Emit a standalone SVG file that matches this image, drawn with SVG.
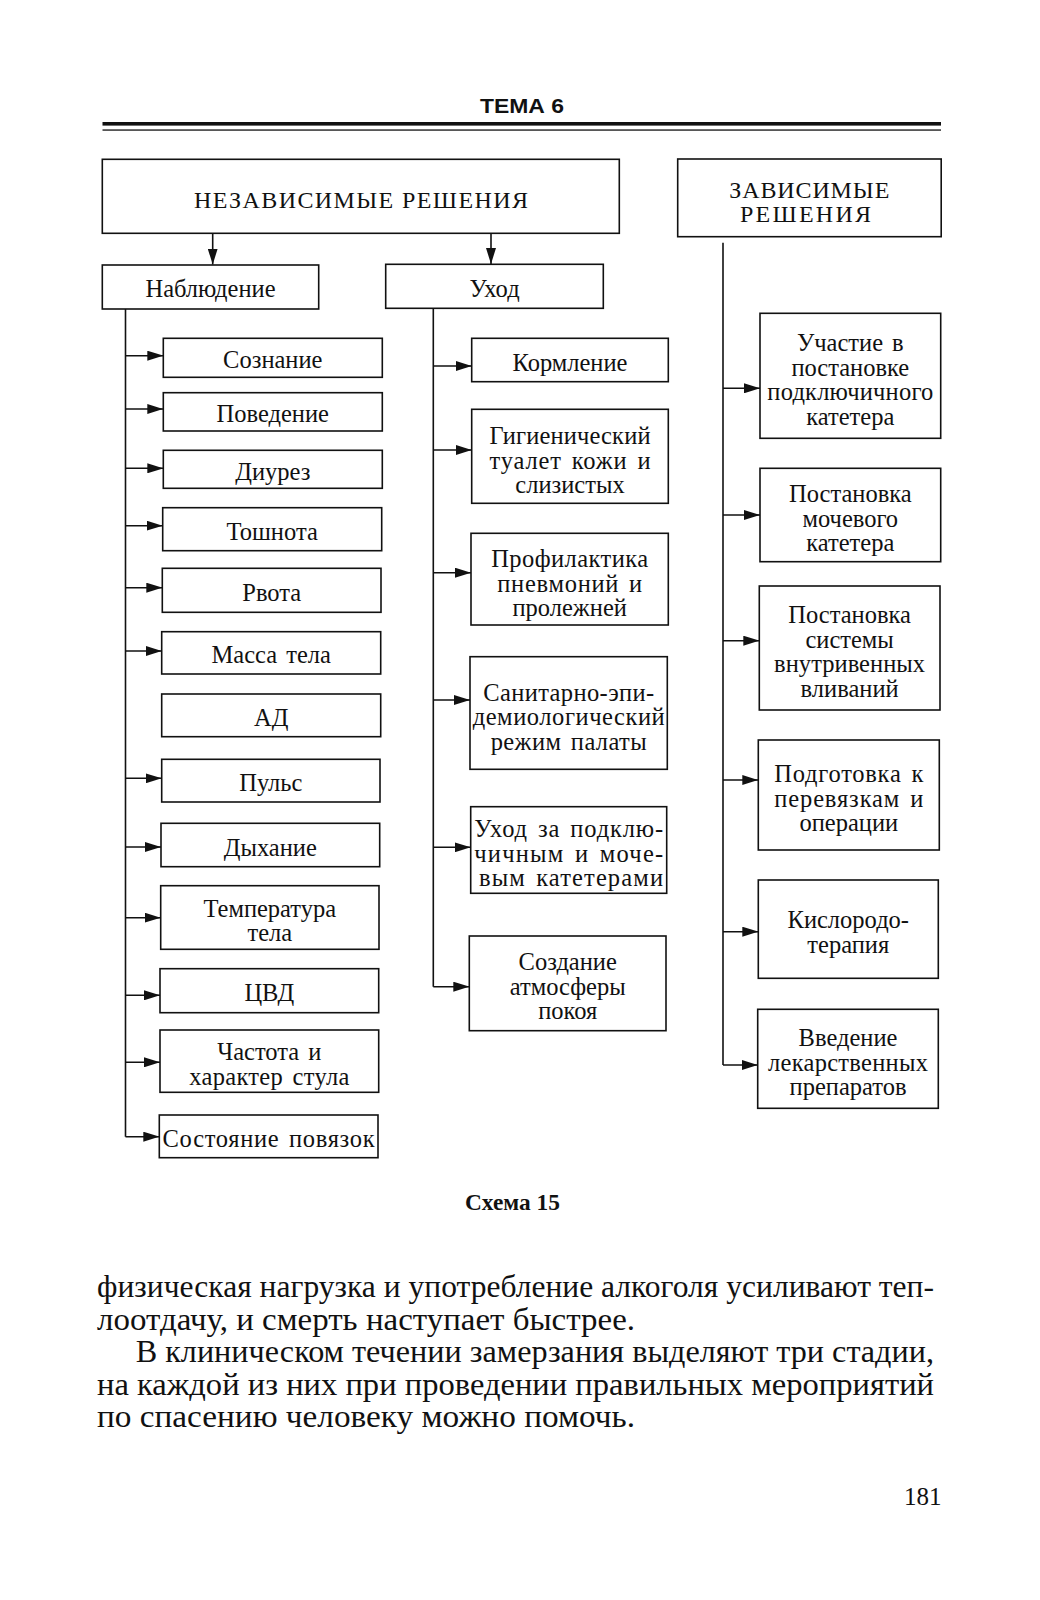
<svg xmlns="http://www.w3.org/2000/svg" width="1040" height="1600" viewBox="0 0 1040 1600">
<style>
.box{fill:#fff;stroke:#111;stroke-width:1.6}
.t{font-family:"Liberation Serif","Times New Roman",serif;font-size:24.5px;fill:#111;text-anchor:middle;word-spacing:3px}
.h{font-family:"Liberation Serif","Times New Roman",serif;font-size:24px;fill:#111;text-anchor:start}
.ln{stroke:#111;stroke-width:1.6;fill:none}
.body{font-family:"Liberation Serif","Times New Roman",serif;font-size:32px;fill:#111}
</style>
<defs>
<marker id="ar" markerUnits="userSpaceOnUse" markerWidth="16" markerHeight="10" refX="16" refY="5" orient="auto">
<path d="M0,0 L16,5 L0,10 z" fill="#111"/>
</marker>
</defs>
<rect width="1040" height="1600" fill="#fff"/>

<g id="header">
<text x="480" y="112.7" textLength="84" lengthAdjust="spacingAndGlyphs" style="font-family:'Liberation Sans',Arial,sans-serif;font-size:20px;font-weight:bold;fill:#111">ТЕМА 6</text>
<rect x="102.5" y="122" width="838.5" height="3.6" fill="#111"/>
<rect x="102.5" y="129.4" width="838.5" height="1.3" fill="#111"/>
</g>

<g id="n-independent">
<rect class="box" x="102.3" y="159.3" width="517" height="74"/>
<text class="h" x="194" y="208.3" textLength="334" lengthAdjust="spacing">НЕЗАВИСИМЫЕ РЕШЕНИЯ</text>
</g>
<g id="n-dependent">
<rect class="box" x="677.7" y="159" width="263.5" height="77.7"/>
<text class="h" x="729.3" y="198.3" textLength="160" lengthAdjust="spacing">ЗАВИСИМЫЕ</text>
<text class="h" x="740" y="221.7" textLength="131" lengthAdjust="spacing">РЕШЕНИЯ</text>
</g>
<g id="n-observation">
<rect class="box" x="102.3" y="265" width="216.4" height="44"/>
<text class="t" x="210.5" y="297.3" textLength="130" lengthAdjust="spacingAndGlyphs">Наблюдение</text>
</g>
<g id="n-care">
<rect class="box" x="385.7" y="264.3" width="217.6" height="44"/>
<text class="t" x="494.5" y="296.7">Уход</text>
</g>

<!-- left column -->
<g id="n-l1"><rect class="box" x="163.3" y="338.3" width="219" height="39"/><text class="t" x="272.8" y="368.3">Сознание</text></g>
<g id="n-l2"><rect class="box" x="163.3" y="392.7" width="219" height="38.3"/><text class="t" x="272.8" y="422.3">Поведение</text></g>
<g id="n-l3"><rect class="box" x="163.3" y="450.3" width="219" height="38"/><text class="t" x="272.8" y="479.8">Диурез</text></g>
<g id="n-l4"><rect class="box" x="162.7" y="507.7" width="219" height="43"/><text class="t" x="272.2" y="539.7">Тошнота</text></g>
<g id="n-l5"><rect class="box" x="162.3" y="568.3" width="218.7" height="44"/><text class="t" x="271.7" y="600.8">Рвота</text></g>
<g id="n-l6"><rect class="box" x="161.7" y="631.7" width="219" height="42.3"/><text class="t" x="271.2" y="663.3">Масса тела</text></g>
<g id="n-l7"><rect class="box" x="161.7" y="694" width="219" height="42.7"/><text class="t" x="271.2" y="725.8">АД</text></g>
<g id="n-l8"><rect class="box" x="161.7" y="759.3" width="218.3" height="42.7"/><text class="t" x="270.8" y="791.2">Пульс</text></g>
<g id="n-l9"><rect class="box" x="161" y="823.3" width="218.7" height="43.4"/><text class="t" x="270.3" y="855.5">Дыхание</text></g>
<g id="n-l10"><rect class="box" x="160.7" y="885.7" width="218.3" height="63.6"/><text class="t" x="269.8" y="916.5">Температура</text><text class="t" x="269.8" y="941">тела</text></g>
<g id="n-l11"><rect class="box" x="160" y="968.7" width="218.7" height="44"/><text class="t" x="269.3" y="1001.2">ЦВД</text></g>
<g id="n-l12"><rect class="box" x="160" y="1030" width="218.7" height="62.3"/><text class="t" x="269.3" y="1060.2">Частота и</text><text class="t" x="269.3" y="1084.7" textLength="160" lengthAdjust="spacing">характер стула</text></g>
<g id="n-l13"><rect class="box" x="159.3" y="1115" width="218.7" height="42.7"/><text class="t" x="268.6" y="1146.9" textLength="212" lengthAdjust="spacing">Состояние повязок</text></g>

<!-- middle column -->
<g id="n-m1"><rect class="box" x="471.7" y="338.3" width="196.6" height="43.4"/><text class="t" x="570" y="370.5">Кормление</text></g>
<g id="n-m2"><rect class="box" x="471.7" y="409.3" width="196.6" height="94"/><text class="t" x="570" y="444.3" textLength="161" lengthAdjust="spacing">Гигиенический</text><text class="t" x="570" y="468.8" textLength="161" lengthAdjust="spacing">туалет кожи и</text><text class="t" x="570" y="493.3">слизистых</text></g>
<g id="n-m3"><rect class="box" x="471" y="533.3" width="197.3" height="91.7"/><text class="t" x="569.7" y="567.2" textLength="157" lengthAdjust="spacing">Профилактика</text><text class="t" x="569.7" y="591.7" textLength="145" lengthAdjust="spacing">пневмоний и</text><text class="t" x="569.7" y="616.2">пролежней</text></g>
<g id="n-m4"><rect class="box" x="470" y="656.7" width="197.3" height="112.6"/><text class="t" x="568.7" y="700.5" textLength="171" lengthAdjust="spacing">Санитарно-эпи-</text><text class="t" x="568.7" y="725" textLength="192" lengthAdjust="spacing">демиологический</text><text class="t" x="568.7" y="749.5" textLength="156" lengthAdjust="spacing">режим палаты</text></g>
<g id="n-m5"><rect class="box" x="470.7" y="806.7" width="196" height="86.6"/><text class="t" x="568.7" y="837" textLength="189" lengthAdjust="spacing">Уход за подклю-</text><text class="t" x="568.7" y="861.5" textLength="189" lengthAdjust="spacing">чичным и моче-</text><text class="t" x="571" y="886" textLength="184" lengthAdjust="spacing">вым катетерами</text></g>
<g id="n-m6"><rect class="box" x="469.3" y="936" width="196.7" height="94.7"/><text class="t" x="567.7" y="970.4">Создание</text><text class="t" x="567.7" y="994.9">атмосферы</text><text class="t" x="567.7" y="1019.4">покоя</text></g>

<!-- right column -->
<g id="n-r1"><rect class="box" x="760" y="313.3" width="180.7" height="125"/><text class="t" x="850.3" y="351">Участие в</text><text class="t" x="850.3" y="375.5">постановке</text><text class="t" x="850.3" y="400" textLength="166" lengthAdjust="spacing">подключичного</text><text class="t" x="850.3" y="424.5">катетера</text></g>
<g id="n-r2"><rect class="box" x="760" y="468.3" width="180.7" height="93.4"/><text class="t" x="850.3" y="502">Постановка</text><text class="t" x="850.3" y="526.5">мочевого</text><text class="t" x="850.3" y="551">катетера</text></g>
<g id="n-r3"><rect class="box" x="759.3" y="586" width="180.7" height="124"/><text class="t" x="849.6" y="623">Постановка</text><text class="t" x="849.6" y="647.5">системы</text><text class="t" x="849.6" y="672" textLength="151" lengthAdjust="spacing">внутривенных</text><text class="t" x="849.6" y="696.5">вливаний</text></g>
<g id="n-r4"><rect class="box" x="758.3" y="740" width="181" height="110"/><text class="t" x="848.8" y="782" textLength="149" lengthAdjust="spacing">Подготовка к</text><text class="t" x="848.8" y="806.5" textLength="149" lengthAdjust="spacing">перевязкам и</text><text class="t" x="848.8" y="831">операции</text></g>
<g id="n-r5"><rect class="box" x="758.3" y="880" width="180" height="98.3"/><text class="t" x="848.3" y="928.4">Кислородо-</text><text class="t" x="848.3" y="952.9">терапия</text></g>
<g id="n-r6"><rect class="box" x="757.7" y="1009.3" width="180.6" height="99"/><text class="t" x="848" y="1046">Введение</text><text class="t" x="848" y="1070.5" textLength="160" lengthAdjust="spacing">лекарственных</text><text class="t" x="848" y="1095">препаратов</text></g>

<g id="connectors">
<line class="ln" x1="212.7" y1="233.3" x2="212.7" y2="264.5" marker-end="url(#ar)"/>
<line class="ln" x1="491" y1="233.3" x2="491" y2="264" marker-end="url(#ar)"/>
<line class="ln" x1="125.5" y1="309" x2="125.5" y2="1136.7"/>
<line class="ln" x1="433.3" y1="308.3" x2="433.3" y2="986.7"/>
<line class="ln" x1="723" y1="242.7" x2="723" y2="1065"/>
<line class="ln" x1="125.5" y1="355.7" x2="163.3" y2="355.7" marker-end="url(#ar)"/>
<line class="ln" x1="125.5" y1="409" x2="163.3" y2="409" marker-end="url(#ar)"/>
<line class="ln" x1="125.5" y1="468.3" x2="163.3" y2="468.3" marker-end="url(#ar)"/>
<line class="ln" x1="125.5" y1="525.7" x2="162.7" y2="525.7" marker-end="url(#ar)"/>
<line class="ln" x1="125.5" y1="587.7" x2="162.3" y2="587.7" marker-end="url(#ar)"/>
<line class="ln" x1="125.5" y1="651" x2="161.7" y2="651" marker-end="url(#ar)"/>
<line class="ln" x1="125.5" y1="778.3" x2="161.7" y2="778.3" marker-end="url(#ar)"/>
<line class="ln" x1="125.5" y1="847" x2="161" y2="847" marker-end="url(#ar)"/>
<line class="ln" x1="125.5" y1="917.7" x2="160.7" y2="917.7" marker-end="url(#ar)"/>
<line class="ln" x1="125.5" y1="995.3" x2="160" y2="995.3" marker-end="url(#ar)"/>
<line class="ln" x1="125.5" y1="1062.3" x2="160" y2="1062.3" marker-end="url(#ar)"/>
<line class="ln" x1="125.5" y1="1136.7" x2="159.3" y2="1136.7" marker-end="url(#ar)"/>
<line class="ln" x1="433.3" y1="366" x2="471.7" y2="366" marker-end="url(#ar)"/>
<line class="ln" x1="433.3" y1="450" x2="471.7" y2="450" marker-end="url(#ar)"/>
<line class="ln" x1="433.3" y1="572.7" x2="471" y2="572.7" marker-end="url(#ar)"/>
<line class="ln" x1="433.3" y1="700" x2="470" y2="700" marker-end="url(#ar)"/>
<line class="ln" x1="433.3" y1="847.3" x2="470.7" y2="847.3" marker-end="url(#ar)"/>
<line class="ln" x1="433.3" y1="986.7" x2="469.3" y2="986.7" marker-end="url(#ar)"/>
<line class="ln" x1="723" y1="388.3" x2="760" y2="388.3" marker-end="url(#ar)"/>
<line class="ln" x1="723" y1="515" x2="760" y2="515" marker-end="url(#ar)"/>
<line class="ln" x1="723" y1="640.7" x2="759.3" y2="640.7" marker-end="url(#ar)"/>
<line class="ln" x1="723" y1="780" x2="758.3" y2="780" marker-end="url(#ar)"/>
<line class="ln" x1="723" y1="931.7" x2="758.3" y2="931.7" marker-end="url(#ar)"/>
<line class="ln" x1="723" y1="1065" x2="757.7" y2="1065" marker-end="url(#ar)"/>
</g>

<g id="caption">
<text x="465" y="1209.5" textLength="95" lengthAdjust="spacingAndGlyphs" style="font-family:'Liberation Serif','Times New Roman',serif;font-size:23px;font-weight:bold;fill:#111">Схема 15</text>
</g>

<g id="page-text">
<text class="body" x="97" y="1297" textLength="837" lengthAdjust="spacingAndGlyphs">физическая нагрузка и употребление алкоголя усиливают теп-</text>
<text class="body" x="97" y="1329.5" textLength="538" lengthAdjust="spacingAndGlyphs">лоотдачу, и смерть наступает быстрее.</text>
<text class="body" x="135.7" y="1362" textLength="798.3" lengthAdjust="spacingAndGlyphs">В клиническом течении замерзания выделяют три стадии,</text>
<text class="body" x="97" y="1394.5" textLength="837" lengthAdjust="spacingAndGlyphs">на каждой из них при проведении правильных мероприятий</text>
<text class="body" x="97" y="1427" textLength="538" lengthAdjust="spacingAndGlyphs">по спасению человеку можно помочь.</text>
<text x="941.5" y="1505" style="font-family:'Liberation Serif','Times New Roman',serif;font-size:25px;fill:#111;text-anchor:end">181</text>
</g>
</svg>
